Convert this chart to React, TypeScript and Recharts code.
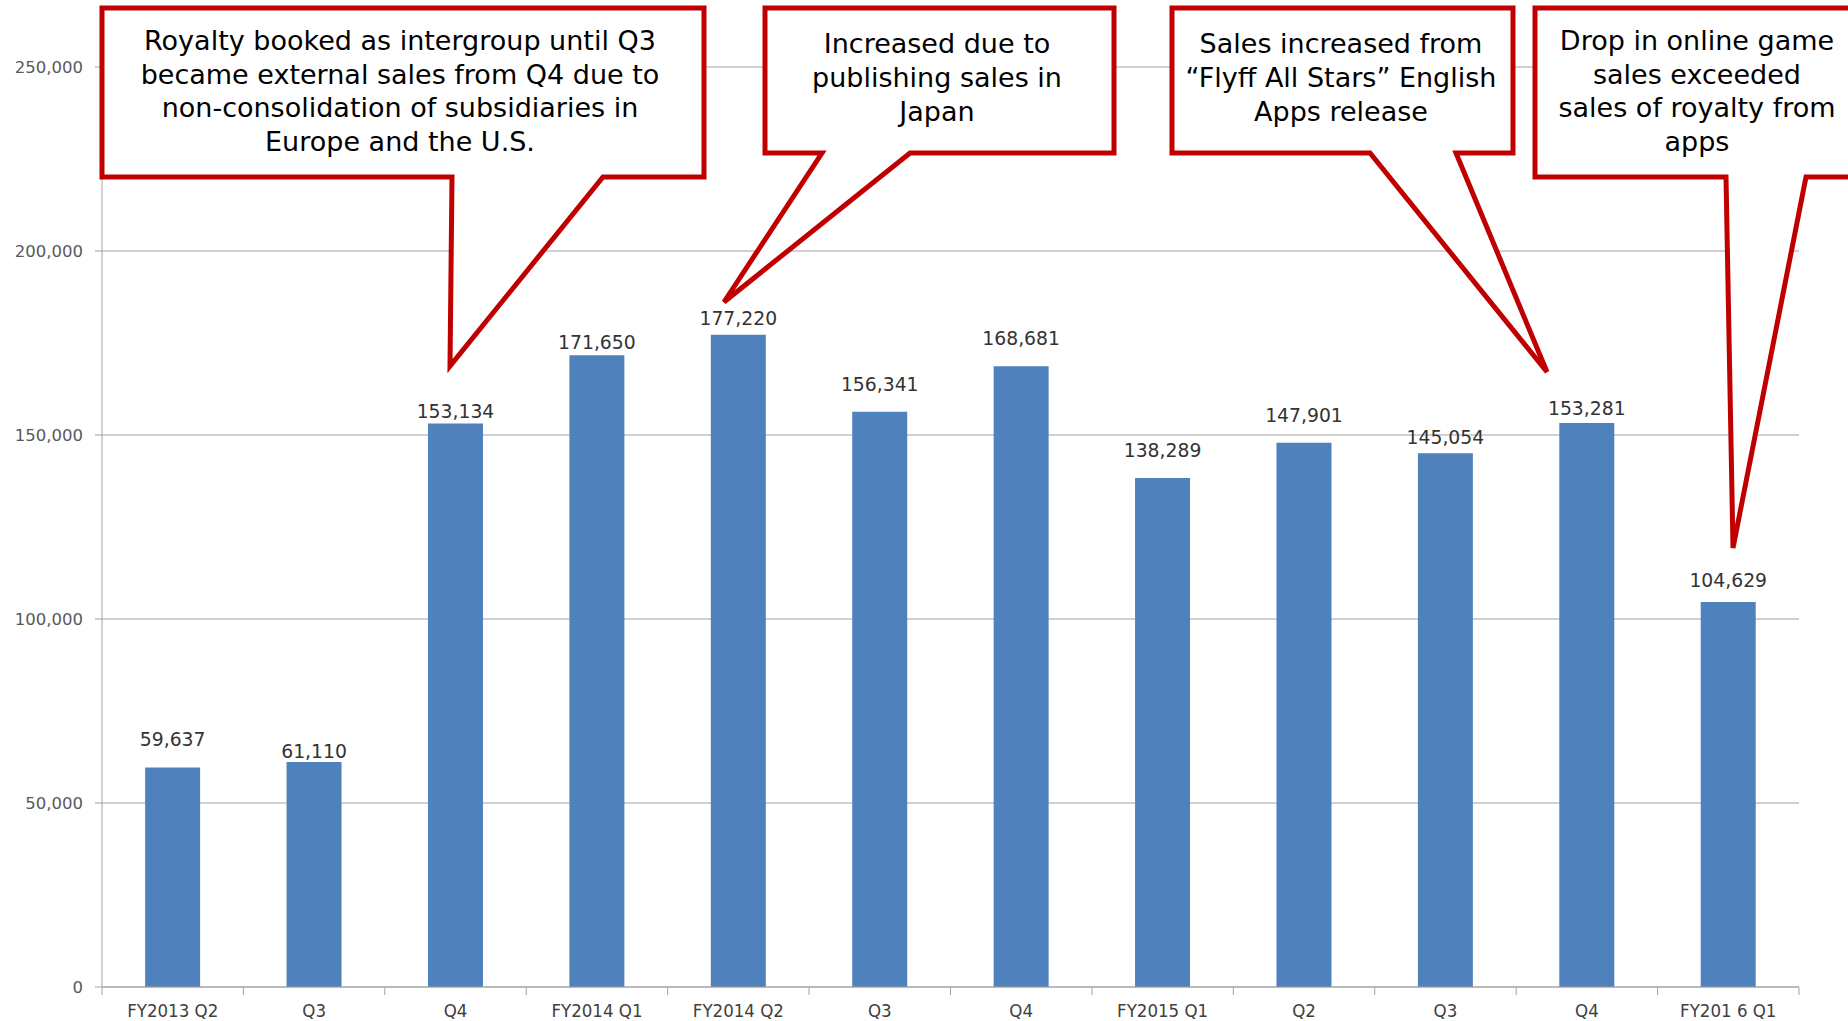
import { BarChart, Bar, XAxis, YAxis, CartesianGrid, LabelList } from "recharts"

const quarters = [
  "FY2013 Q2", "Q3", "Q4",
  "FY2014 Q1", "FY2014 Q2", "Q3", "Q4",
  "FY2015 Q1", "Q2", "Q3", "Q4",
  "FY201 6 Q1",
]
const sales = [59637, 61110, 153134, 171650, 177220, 156341, 168681, 138289, 147901, 145054, 153281, 104629]
const yTicks = [0, 50000, 100000, 150000, 200000, 250000]

// how far each value label sits above its bar (px), as in the slide
const labelLift = [22, 4, 5, 6, 10, 21, 21, 21, 21, 9, 8, 15]

const W = 1848
const H = 1021
const M = { top: 67, right: 49, left: 0, bottom: 0 }
const Y_W = 102
const X_H = 34
const band = (W - M.left - M.right - Y_W) / quarters.length

const rows = quarters.map((q, i) => ({ q, sales: sales[i] }))

const RED = "#C00000"
const GRID = "#a3a3a3"
const sans = "'DejaVu Sans', sans-serif"
const condensed = "'DejaVu Sans Condensed', 'DejaVu Sans', sans-serif"

// callout shapes: box, notch on bottom edge, pointer tip, first text baseline
const callouts = [
  {
    l: 102, t: 8, r: 704, b: 177, n1: 452, n2: 603, tx: 450, ty: 366, cx: 400, ly: 50, lh: 33.5,
    lines: ["Royalty booked as intergroup until Q3", "became external sales from Q4 due to", "non-consolidation of subsidiaries in", "Europe and the U.S."],
  },
  {
    l: 765, t: 8, r: 1114, b: 153, n1: 822, n2: 910, tx: 724, ty: 302, cx: 937, ly: 53, lh: 34,
    lines: ["Increased due to", "publishing sales in", "Japan"],
  },
  {
    l: 1172, t: 8, r: 1513, b: 153, n1: 1370, n2: 1456, tx: 1547, ty: 372, cx: 1341, ly: 53, lh: 34,
    lines: ["Sales increased from", "\u201cFlyff All Stars\u201d English", "Apps release"],
  },
  {
    l: 1535, t: 8, r: 1870, b: 177, n1: 1726, n2: 1806, tx: 1733, ty: 548, cx: 1697, ly: 50, lh: 33.5,
    lines: ["Drop in online game", "sales exceeded", "sales of royalty from", "apps"],
  },
]

function XTick(props: any) {
  const { x, y, payload, index } = props
  const last = index === quarters.length - 1
  return (
    <g>
      <line x1={x - band / 2} x2={x - band / 2} y1={y} y2={y + 8} stroke={GRID} />
      {last && <line x1={x + band / 2} x2={x + band / 2} y1={y} y2={y + 8} stroke={GRID} />}
      <text x={x} y={y + 30} textAnchor="middle" fontFamily={condensed} fontStretch="condensed" fontSize={18.5} fill="#404040">
        {payload.value}
      </text>
    </g>
  )
}

function ValueLabel(props: any) {
  const { x, y, width, value, index } = props
  return (
    <text x={x + width / 2} y={y - labelLift[index]} textAnchor="middle" fontFamily={sans} fontSize={18.8} fill="#333333">
      {Number(value).toLocaleString("en-US")}
    </text>
  )
}

export default function App() {
  return (
    <div style={{ position: "absolute", left: 0, top: 0, width: W, height: H, background: "#fff", overflow: "hidden" }}>
      <BarChart width={W} height={H} data={rows} margin={M} barCategoryGap="30.5%">
        <CartesianGrid vertical={false} stroke={GRID} />
        <XAxis
          dataKey="q"
          height={X_H}
          stroke={GRID}
          tickLine={false}
          tickSize={0}
          tickMargin={0}
          interval={0}
          tick={<XTick />}
        />
        <YAxis
          width={Y_W}
          domain={[0, 250000]}
          ticks={yTicks}
          stroke={GRID}
          tickSize={7}
          tickMargin={12}
          tick={{ fontFamily: sans, fontSize: 16.5, fill: "#595959" }}
          tickFormatter={(v: number) => v.toLocaleString("en-US")}
        />
        <Bar dataKey="sales" fill="#4F81BD" isAnimationActive={false}>
          <LabelList dataKey="sales" content={<ValueLabel />} />
        </Bar>
      </BarChart>

      <svg width={W} height={H} style={{ position: "absolute", left: 0, top: 0, pointerEvents: "none" }}>
        {callouts.map((c, i) => (
          <g key={i}>
            <path
              d={`M${c.l},${c.t} H${c.r} V${c.b} H${c.n2} L${c.tx},${c.ty} L${c.n1},${c.b} H${c.l} Z`}
              fill="#fff"
              stroke={RED}
              strokeWidth={5}
              strokeLinejoin="miter"
            />
            <text textAnchor="middle" fontFamily={sans} fontSize={27} fill="#000">
              {c.lines.map((s, k) => (
                <tspan key={k} x={c.cx} y={c.ly + k * c.lh}>{s}</tspan>
              ))}
            </text>
          </g>
        ))}
      </svg>
    </div>
  )
}
